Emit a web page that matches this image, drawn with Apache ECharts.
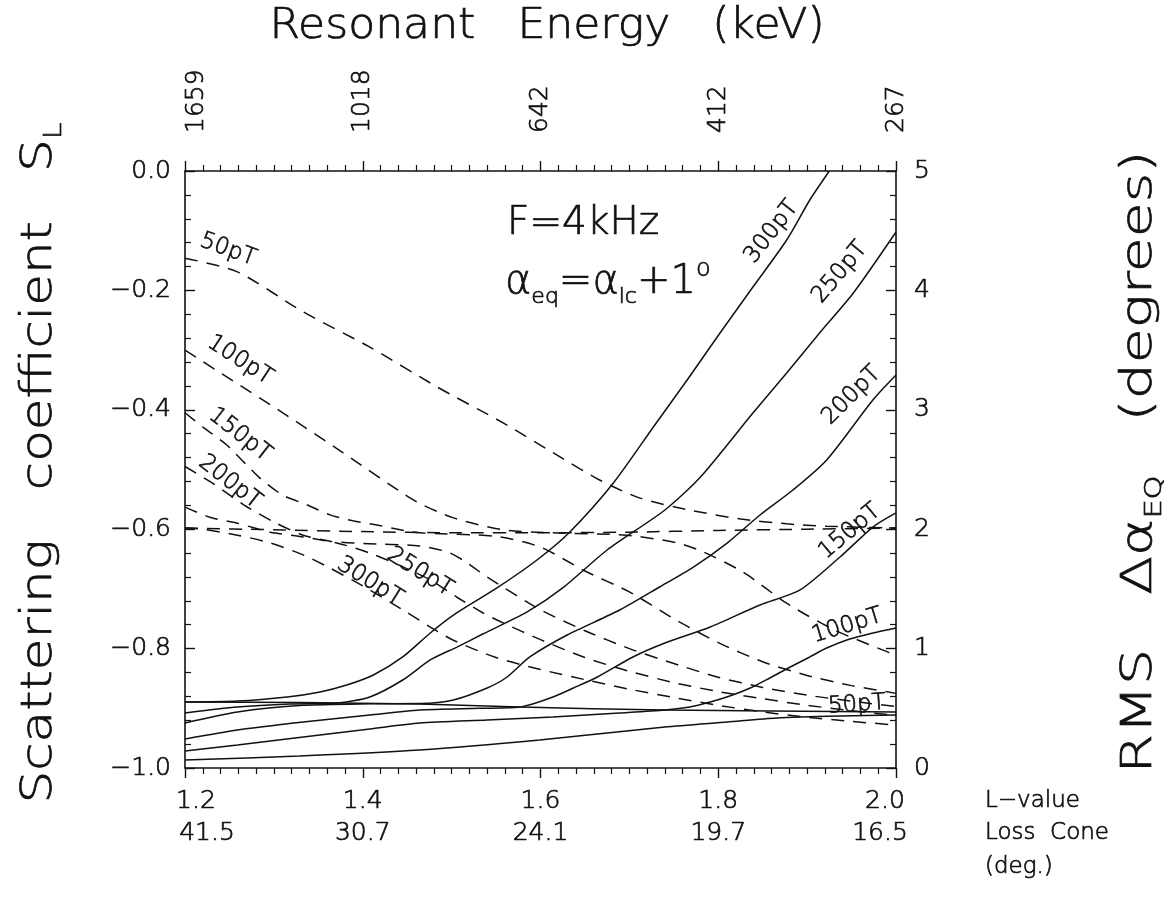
<!DOCTYPE html>
<html>
<head>
<meta charset="utf-8">
<script src="https://cdn.jsdelivr.net/npm/echarts@6/dist/echarts.min.js"></script>
<style>
  html, body { margin: 0; padding: 0; background: #fff; }
  #chart { width: 1169px; height: 910px; }
</style>
</head>
<body>
<div id="chart"></div>
<script>
// ---- tick labels ----
const lValues = [1.2, 1.4, 1.6, 1.8, 2.0];
const lossCone = ['41.5', '30.7', '24.1', '19.7', '16.5'];
const resonantEnergy = ['1659', '1018', '642', '412', '267'];
const amplitudes = ['50pT', '100pT', '150pT', '200pT', '250pT', '300pT'];

// ---- scattering coefficient S_L (left axis), points are [L, S_L] ----
const sl50 = [[1.2,-0.146],[1.259,-0.169],[1.333,-0.236],[1.408,-0.295],[1.484,-0.362],[1.558,-0.422],[1.622,-0.479],[1.667,-0.518],[1.712,-0.548],[1.768,-0.568],[1.825,-0.583],[1.877,-0.591],[1.922,-0.595],[2.0,-0.598]];
const sl100 = [[1.2,-0.300],[1.247,-0.345],[1.310,-0.405],[1.378,-0.472],[1.457,-0.551],[1.502,-0.581],[1.558,-0.601],[1.614,-0.606],[1.697,-0.610],[1.754,-0.623],[1.783,-0.638],[1.828,-0.672],[1.877,-0.724],[1.931,-0.769],[2.0,-0.811]];
const sl150 = [[1.2,-0.405],[1.221,-0.430],[1.247,-0.459],[1.284,-0.514],[1.310,-0.543],[1.337,-0.559],[1.363,-0.576],[1.389,-0.586],[1.416,-0.593],[1.442,-0.601],[1.464,-0.606],[1.55,-0.612],[1.6,-0.63],[1.65,-0.67],[1.7,-0.705],[1.75,-0.75],[1.8,-0.79],[1.85,-0.822],[1.9,-0.845],[1.95,-0.862],[2.0,-0.875]];
const sl200 = [[1.2,-0.495],[1.233,-0.525],[1.267,-0.56],[1.3,-0.588],[1.333,-0.610],[1.363,-0.620],[1.4,-0.624],[1.464,-0.628],[1.495,-0.638],[1.513,-0.652],[1.54,-0.68],[1.6,-0.735],[1.65,-0.77],[1.7,-0.80],[1.75,-0.825],[1.8,-0.848],[1.85,-0.865],[1.9,-0.878],[1.95,-0.888],[2.0,-0.897]];
const sl250 = [[1.2,-0.563],[1.228,-0.58],[1.259,-0.59],[1.296,-0.605],[1.333,-0.613],[1.371,-0.623],[1.408,-0.64],[1.445,-0.663],[1.476,-0.685],[1.506,-0.714],[1.535,-0.74],[1.558,-0.757],[1.6,-0.785],[1.65,-0.815],[1.7,-0.838],[1.75,-0.857],[1.8,-0.872],[1.85,-0.884],[1.9,-0.895],[1.95,-0.904],[2.0,-0.912]];
const sl300 = [[1.2,-0.598],[1.22,-0.600],[1.259,-0.61],[1.296,-0.623],[1.333,-0.643],[1.363,-0.665],[1.4,-0.695],[1.445,-0.735],[1.476,-0.764],[1.502,-0.786],[1.55,-0.815],[1.6,-0.835],[1.65,-0.852],[1.7,-0.868],[1.75,-0.882],[1.8,-0.895],[1.85,-0.906],[1.9,-0.915],[1.95,-0.922],[2.0,-0.928]];
const slLimit = [[1.2,-0.598],[1.3,-0.601],[1.4,-0.604],[1.5,-0.606],[1.6,-0.606],[1.7,-0.605],[1.8,-0.602],[1.9,-0.600],[2.0,-0.598]];

// ---- RMS pitch-angle change in degrees (right axis), points are [L, deg] ----
const rms50 = [[1.200,0.067],[1.329,0.101],[1.464,0.151],[1.599,0.235],[1.740,0.343],[1.810,0.385],[1.866,0.419],[1.937,0.436],[2.000,0.444]];
const rms100 = [[1.200,0.142],[1.259,0.193],[1.333,0.260],[1.408,0.327],[1.464,0.377],[1.540,0.402],[1.614,0.427],[1.689,0.461],[1.740,0.486],[1.768,0.511],[1.791,0.553],[1.813,0.603],[1.836,0.670],[1.858,0.754],[1.881,0.846],[1.903,0.930],[1.922,1.005],[1.948,1.080],[1.974,1.131],[2.000,1.173]];
const rms150 = [[1.200,0.243],[1.259,0.318],[1.333,0.385],[1.408,0.444],[1.464,0.486],[1.532,0.500],[1.577,0.511],[1.614,0.595],[1.637,0.670],[1.664,0.762],[1.704,0.930],[1.740,1.047],[1.791,1.181],[1.847,1.365],[1.892,1.491],[1.937,1.767],[1.974,2.018],[2.000,2.136]];
const rms200 = [[1.200,0.377],[1.259,0.469],[1.333,0.525],[1.408,0.538],[1.464,0.540],[1.502,0.570],[1.540,0.670],[1.562,0.760],[1.588,0.930],[1.630,1.114],[1.689,1.323],[1.734,1.516],[1.772,1.683],[1.810,1.884],[1.847,2.119],[1.884,2.328],[1.922,2.580],[1.974,3.082],[2.000,3.291]];
const rms250 = [[1.200,0.461],[1.259,0.511],[1.318,0.536],[1.371,0.544],[1.408,0.595],[1.445,0.737],[1.476,0.905],[1.506,1.013],[1.535,1.122],[1.585,1.307],[1.625,1.508],[1.675,1.826],[1.740,2.161],[1.780,2.437],[1.839,2.973],[1.877,3.308],[1.914,3.643],[1.952,3.978],[2.000,4.489]];
const rms300 = [[1.200,0.553],[1.259,0.561],[1.315,0.595],[1.352,0.637],[1.382,0.695],[1.412,0.779],[1.445,0.930],[1.476,1.131],[1.502,1.281],[1.551,1.508],[1.596,1.742],[1.633,1.977],[1.682,2.387],[1.727,2.856],[1.765,3.250],[1.802,3.643],[1.839,4.028],[1.877,4.422],[1.903,4.757],[1.925,5.000]];
const rmsLimit = [[1.2,0.553],[1.33,0.548],[1.464,0.536],[1.577,0.511],[1.74,0.486],[2.0,0.469]];

const slSeries = [sl50, sl100, sl150, sl200, sl250, sl300];
const rmsSeries = [rms50, rms100, rms150, rms200, rms250, rms300];

// ---- where the amplitude tags sit along each curve (layout only) ----
const slTagLayout = [
  { at: [1.2484, -0.132], rot: -20 },
  { at: [1.2619, -0.317], rot: -33 },
  { at: [1.2619, -0.442], rot: -38 },
  { at: [1.2506, -0.521], rot: -38 },
  { at: [1.4644, -0.672], rot: -32 },
  { at: [1.4082, -0.688], rot: -32 }
];
const rmsTagLayout = [
  { at: [1.956, 0.53], rot: 4 },
  { at: [1.945, 1.19], rot: 17 },
  { at: [1.948, 1.98], rot: 40 },
  { at: [1.950, 3.12], rot: 45 },
  { at: [1.937, 4.15], rot: 50 },
  { at: [1.860, 4.49], rot: 52 }
];

// thin outline glyphs: extra-light face plus a hairline stroke
const FONT = '"DejaVu Sans", "Liberation Sans", sans-serif';
const WEIGHT = 200;
const INK = '#111';
const HAIR = 0.7;

function tickIndex(v) {
  return lValues.findIndex(x => Math.abs(x - v) < 1e-6);
}

const chart = echarts.init(document.getElementById('chart'));

const axisLineStyle = { show: true, lineStyle: { color: INK, width: 1.6 } };
const tickStyle = { show: true, inside: true, length: 10, lineStyle: { color: INK, width: 1.4 } };
const minorStyle = (n) => ({ show: true, splitNumber: n, length: 6, lineStyle: { color: INK, width: 1.2 } });
const labelFont = { fontFamily: FONT, fontWeight: WEIGHT, color: INK, textBorderColor: INK, textBorderWidth: HAIR };
const tok = (size, extra) => Object.assign({ fontSize: size }, labelFont, extra || {});

const SMOOTH = 0.25;
const series = [];
slSeries.forEach((d, i) => {
  series.push({
    name: 'S_L ' + amplitudes[i], type: 'line', xAxisIndex: 0, yAxisIndex: 0,
    data: d, showSymbol: false, smooth: SMOOTH,
    lineStyle: { color: INK, width: 1.5, type: [13, 9] }, silent: true, z: 3
  });
});
series.push({
  name: 'S_L limit', type: 'line', xAxisIndex: 0, yAxisIndex: 0,
  data: slLimit, showSymbol: false, smooth: SMOOTH,
  lineStyle: { color: INK, width: 1.5, type: [13, 9] }, silent: true, z: 3
});
rmsSeries.forEach((d, i) => {
  series.push({
    name: 'RMS ' + amplitudes[i], type: 'line', xAxisIndex: 0, yAxisIndex: 1,
    data: d, showSymbol: false, smooth: SMOOTH,
    lineStyle: { color: INK, width: 1.5 }, silent: true, z: 4
  });
});
series.push({
  name: 'RMS limit', type: 'line', xAxisIndex: 0, yAxisIndex: 1,
  data: rmsLimit, showSymbol: false, smooth: SMOOTH,
  lineStyle: { color: INK, width: 1.5 }, silent: true, z: 4
});

chart.setOption({
  animation: false,
  backgroundColor: '#fff',
  textStyle: { fontFamily: FONT, fontWeight: WEIGHT, color: INK },
  grid: { left: 185, right: 273, top: 171, bottom: 142, containLabel: false },
  xAxis: [
    {
      type: 'value', position: 'bottom', min: 1.2, max: 2.0, interval: 0.2,
      axisLine: axisLineStyle, axisTick: tickStyle, minorTick: minorStyle(10),
      splitLine: { show: false },
      axisLabel: {
        margin: 17, showMinLabel: true, showMaxLabel: true,
        formatter: v => {
          const i = tickIndex(v);
          if (i < 0) return '';
          const sfx = i === 0 ? 'first' : (i === lValues.length - 1 ? 'last' : '');
          return '{l' + sfx + '|' + lValues[i].toFixed(1) + '}\n{c' + sfx + '|' + lossCone[i] + '}';
        },
        rich: {
          l: tok(25, { lineHeight: 32 }),
          c: tok(25, { lineHeight: 32 }),
          lfirst: tok(25, { lineHeight: 32, padding: [0, 0, 0, 22] }),
          cfirst: tok(25, { lineHeight: 32, padding: [0, 0, 0, 44] }),
          llast: tok(25, { lineHeight: 32, padding: [0, 22, 0, 0] }),
          clast: tok(25, { lineHeight: 32, padding: [0, 32, 0, 0] })
        }
      }
    },
    {
      type: 'value', position: 'top', min: 1.2, max: 2.0, interval: 0.2,
      axisLine: axisLineStyle, axisTick: tickStyle, minorTick: minorStyle(10),
      splitLine: { show: false },
      axisLabel: {
        margin: 38, rotate: 90, showMinLabel: true, showMaxLabel: true,
        formatter: v => {
          const i = tickIndex(v);
          if (i < 0) return '';
          return i === 0 ? '{f|' + resonantEnergy[i] + '}' : '{e|' + resonantEnergy[i] + '}';
        },
        rich: {
          e: tok(25),
          f: tok(25, { padding: [22, 0, 0, 0] })
        }
      }
    }
  ],
  yAxis: [
    {
      type: 'value', position: 'left', min: -1, max: 0, interval: 0.2,
      axisLine: axisLineStyle, axisTick: tickStyle, minorTick: minorStyle(5),
      splitLine: { show: false },
      axisLabel: Object.assign({
        margin: 14, fontSize: 25,
        formatter: v => Math.abs(v) < 1e-9 ? '0.0' : '\u2212' + Math.abs(v).toFixed(1)
      }, labelFont)
    },
    {
      type: 'value', position: 'right', min: 0, max: 5, interval: 1,
      axisLine: axisLineStyle, axisTick: tickStyle, minorTick: minorStyle(5),
      splitLine: { show: false },
      axisLabel: Object.assign({ margin: 18, fontSize: 25 }, labelFont)
    }
  ],
  series: series
});

// ---- titles, annotations and curve tags ----
const textBase = { fontFamily: FONT, fontWeight: WEIGHT, fill: INK, stroke: INK, lineWidth: HAIR };
// token styles for graphic rich text (stroke/lineWidth outline the glyphs)
const rt = (size, extra) => Object.assign({
  fontSize: size, fontFamily: FONT, fontWeight: WEIGHT, fill: INK, stroke: INK, lineWidth: HAIR
}, extra || {});
const graphics = [
  {
    type: 'text', x: 547, y: 27, scaleX: 1.05,
    style: Object.assign({ text: 'Resonant   Energy   (keV)', fontSize: 42, align: 'center', verticalAlign: 'middle' }, textBase)
  },
  {
    type: 'text', x: 40, y: 463, rotation: Math.PI / 2, scaleX: 1.2,
    style: Object.assign({
      text: '{m|Scattering   coefficient   S}{s|L}', align: 'center', verticalAlign: 'middle',
      rich: {
        m: rt(43, { lineHeight: 54 }),
        s: rt(25, { lineHeight: 54, verticalAlign: 'bottom' })
      }
    }, textBase)
  },
  {
    type: 'text', x: 1140, y: 462, rotation: Math.PI / 2, scaleX: 1.32,
    style: Object.assign({
      text: '{m|RMS   \u0394\u03b1}{s|EQ}{m|   (degrees)}', align: 'center', verticalAlign: 'middle',
      rich: {
        m: rt(43, { lineHeight: 54 }),
        s: rt(23, { lineHeight: 54, verticalAlign: 'bottom' })
      }
    }, textBase)
  },
  { type: 'text', x: 507, y: 224, style: Object.assign({ text: 'F=4kHz', fontSize: 39, align: 'left', verticalAlign: 'middle' }, textBase) },
  {
    type: 'text', x: 505, y: 283,
    style: Object.assign({
      text: '{a|\u03b1}{s|eq}{a|=\u03b1}{s|lc}{a|+1}{o|o}', align: 'left', verticalAlign: 'middle',
      rich: {
        a: rt(40, { lineHeight: 50 }),
        s: rt(22, { lineHeight: 50, verticalAlign: 'bottom' }),
        o: rt(24, { lineHeight: 50, verticalAlign: 'top' })
      }
    }, textBase)
  },
  { type: 'text', x: 985, y: 801, style: Object.assign({ text: 'L\u2212value', fontSize: 23, align: 'left', verticalAlign: 'middle' }, textBase) },
  { type: 'text', x: 985, y: 833, style: Object.assign({ text: 'Loss  Cone', fontSize: 23, align: 'left', verticalAlign: 'middle' }, textBase) },
  { type: 'text', x: 985, y: 867, style: Object.assign({ text: '(deg.)', fontSize: 23, align: 'left', verticalAlign: 'middle' }, textBase) }
];

function addTag(text, seriesIndex, layout) {
  const p = chart.convertToPixel({ seriesIndex: seriesIndex }, layout.at);
  graphics.push({
    type: 'text', x: p[0], y: p[1], rotation: layout.rot * Math.PI / 180, z: 10,
    style: Object.assign({ text: text, fontSize: 23, align: 'center', verticalAlign: 'middle' }, textBase)
  });
}
amplitudes.forEach((a, i) => addTag(a, i, slTagLayout[i]));
amplitudes.forEach((a, i) => addTag(a, 7 + i, rmsTagLayout[i]));

chart.setOption({ graphic: graphics });
</script>
</body>
</html>
